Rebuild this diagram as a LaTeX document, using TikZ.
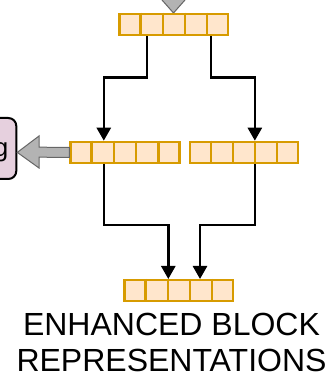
\documentclass[tikz,border=0pt]{standalone}
\usepackage{fontspec}
\setmainfont{Liberation Sans}
\usetikzlibrary{arrows.meta,calc}
\definecolor{barfill}{HTML}{FFE6CC}
\definecolor{barline}{HTML}{D79B00}
\definecolor{poolfill}{HTML}{E6D0DE}
\definecolor{greyfill}{HTML}{B3B3B3}
\definecolor{greyline}{HTML}{666666}
\tikzset{
  bar/.style={draw=barline, fill=barfill, line width=2.4pt, minimum height=21pt, inner sep=0pt},
  conn/.style={line width=2.6pt, -{Triangle[width=14pt,length=13pt]}},
  blockarrow/.style={fill=greyfill, draw=greyline, line width=1pt, line join=miter},
}
% five-cell vector: dividers split the bar evenly
\newcommand{\celldividers}[1]{%
  \foreach \k in {1,...,4}{
    \draw[barline, line width=2.4pt] ($(#1.north west)!\k/5!(#1.north east)$) -- ($(#1.south west)!\k/5!(#1.south east)$);
  }}
\begin{document}
\begin{tikzpicture}[x=1pt,y=1pt]
\useasboundingbox (0,0) rectangle (334,375);
\begin{scope}
\clip (0,0) rectangle (334,375);
% incoming arrow head from above
\draw[blockarrow] (153.2,385) -- (193.8,385) -- (173.5,362) -- cycle;
% pooling block at the left
\node[draw=black, fill=poolfill, line width=2pt, rounded corners=8pt, minimum width=50pt, minimum height=61pt, anchor=east] (pool) at (17.3,226.5) {};
\node[anchor=base east, inner sep=0pt, font=\fontsize{26}{30}\selectfont] (poollabel) at (8.5,218.8) {g};
\end{scope}

% vectors
\node[bar, minimum width=108.6pt] (top) at (173.8,350.6) {};
\node[bar, minimum width=109pt] (ml) at (125,222.6) {};
\node[bar, minimum width=107.9pt] (mr) at (244.2,222.6) {};
\node[bar, minimum width=108.6pt] (out) at (178.8,84.3) {};
\celldividers{top}
\celldividers{ml}
\celldividers{mr}
\celldividers{out}

% split into two branches
\draw[conn] ([xshift=28.5]top.south west) -- ++(0,-41.3) -| ([xshift=34.5]ml.north west);
\draw[conn] ([xshift=92.5]top.south west) -- ++(0,-41.3) -| ([xshift=65.8]mr.north west);
% merge back into the output vector
\draw[conn] ([xshift=34.5]ml.south west) -- ++(0,-60.9) -| ([xshift=-10.5]out.north);
\draw[conn] ([xshift=65.8]mr.south west) -- ++(0,-60.9) -| ([xshift=21.2]out.north);

% grey block arrow towards the pooling block
\draw[blockarrow] (ml.west) ++(0,5) -- (39,227.8) -- (39,239) -- (pool.east |- ml.west) -- (39,207) -- (39,217.8) -- ([yshift=-5]ml.west) -- cycle;

% caption
\node[align=center, inner sep=0pt, font=\fontsize{32}{36.7}\selectfont, anchor=base] (caption) at (171.5,3.2) {ENHANCED BLOCK\\REPRESENTATIONS};
\end{tikzpicture}
\end{document}
